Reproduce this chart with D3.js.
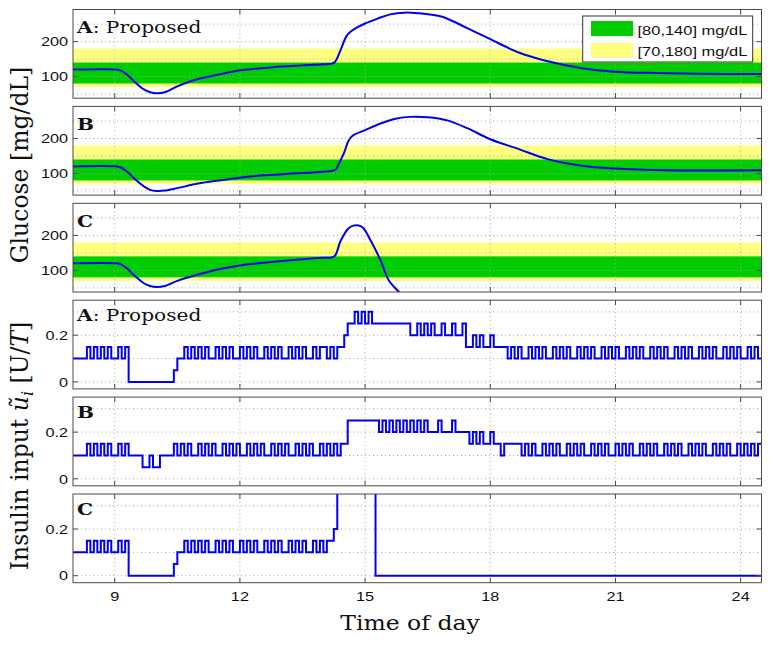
<!DOCTYPE html>
<html><head><meta charset="utf-8">
<script src="https://cdn.jsdelivr.net/npm/d3@7"></script>
<style>body{margin:0;background:#fff}</style>
</head><body>
<svg id="chart" width="771" height="646"></svg>
<script>
// ---------- DATA ----------
const hourTicks = [9, 12, 15, 18, 21, 24];
const glucoseTicks = [100, 200];
const glucoseGrid = [50, 100, 150, 200, 250];
const insulinTicks = [0, 0.2];
const insulinTickLabels = ["0", "0.2"];
const insulinGrid = [0, 0.1, 0.2, 0.3];

const bandLow = [70, 80];
const bandHigh = [180, 140];
const bandColor = ["#ffff80", "#00cc00"];
const legendLabels = ["[80,140] mg/dL", "[70,180] mg/dL"];

const glucoseA_t = [8, 9.05, 9.15, 9.3, 9.5, 9.7, 9.85, 10.0, 10.2, 10.5, 10.8, 11.0, 11.5, 12, 12.5, 13, 13.5, 14, 14.2, 14.28, 14.42, 14.55, 14.65, 14.8, 15.0, 15.3, 15.6, 15.95, 16.3, 16.6, 16.85, 17.0, 17.46, 18, 18.7, 19.3, 20.2, 21, 22, 23, 24.5];
const glucoseA_v = [120, 120, 117, 105, 82, 63, 55, 52, 55, 72, 86, 93, 106, 118, 124, 129, 132, 135, 137, 142, 178, 215, 228, 240, 252, 266, 278, 283, 281, 277, 271, 264, 238, 207, 168, 146, 124, 114, 110, 108, 107];

const glucoseB_t = [8, 9.05, 9.15, 9.3, 9.5, 9.7, 9.85, 10.0, 10.2, 10.5, 11.0, 11.5, 12, 12.5, 13, 13.5, 14, 14.2, 14.3, 14.4, 14.5, 14.6, 14.7, 15.0, 15.37, 15.7, 16.05, 16.5, 16.97, 17.46, 18, 18.7, 19.38, 20.2, 21, 22.2, 24.5];
const glucoseB_v = [120, 120, 117, 105, 82, 63, 53, 50, 51, 58, 71, 80, 88, 94, 98, 101, 105, 107, 112, 135, 160, 193, 208, 224, 243, 256, 262, 261, 252, 229, 198, 169, 141, 122, 114, 109, 109];

const glucoseC_t = [8, 9.05, 9.15, 9.3, 9.5, 9.7, 9.85, 10.0, 10.2, 10.5, 11.0, 11.5, 12, 12.5, 13, 13.5, 14, 14.2, 14.28, 14.42, 14.6, 14.72, 14.82, 14.95, 15.13, 15.37, 15.57, 15.81, 15.9];
const glucoseC_v = [120, 120, 117, 105, 82, 63, 55, 52, 55, 70, 88, 103, 114, 121, 127, 132, 136, 137, 142, 186, 220, 228, 229, 222, 186, 129, 71, 38, 25];

// insulin input, one value per 5-minute sample starting at 8:00 (rows = hours 8..24)
const insulinA = [
 .10,.10,.10,.10,.15,.10,.15,.10,.15,.10,.15,.10,
 .10,.15,.10,.15,0,0,0,0,0,0,0,0,
 0,0,0,0,0,.05,.10,.10,.15,.10,.15,.10,
 .15,.10,.15,.10,.10,.15,.10,.15,.10,.15,.10,.10,
 .15,.10,.15,.10,.15,.10,.10,.15,.10,.15,.10,.15,
 .10,.10,.15,.10,.15,.10,.15,.10,.10,.15,.10,.15,
 .15,.10,.15,.10,.15,.15,.20,.25,.25,.30,.25,.30,
 .25,.30,.25,.25,.25,.25,.25,.25,.25,.25,.25,.25,
 .25,.20,.20,.25,.20,.25,.20,.25,.20,.20,.25,.20,
 .20,.25,.20,.20,.25,.15,.15,.20,.15,.20,.15,.15,
 .20,.15,.15,.15,.15,.10,.15,.10,.15,.10,.10,.15,
 .10,.15,.10,.15,.10,.10,.15,.10,.15,.10,.15,.10,
 .10,.15,.10,.15,.10,.15,.10,.10,.15,.10,.15,.10,
 .15,.10,.10,.15,.10,.15,.10,.15,.10,.10,.15,.10,
 .15,.10,.15,.10,.10,.15,.10,.15,.10,.15,.10,.10,
 .15,.10,.15,.10,.15,.10,.10,.15,.10,.15,.10,.15,
 .10,.10,.15,.10,.15,.10
];
const insulinB = [
 .10,.10,.10,.10,.15,.10,.15,.10,.15,.10,.15,.10,
 .10,.15,.10,.15,.10,.10,.10,.10,.05,.05,.10,.05,
 .05,.10,.10,.10,.10,.15,.10,.15,.10,.15,.10,.10,
 .15,.10,.15,.10,.15,.10,.10,.15,.10,.15,.10,.15,
 .10,.10,.15,.10,.15,.10,.15,.10,.10,.15,.10,.15,
 .10,.15,.10,.10,.15,.10,.15,.10,.15,.10,.10,.15,
 .10,.15,.10,.15,.10,.15,.15,.25,.25,.25,.25,.25,
 .25,.25,.25,.25,.20,.25,.20,.25,.20,.25,.20,.25,
 .20,.25,.20,.25,.20,.25,.20,.20,.20,.25,.20,.20,
 .20,.25,.20,.20,.20,.20,.15,.20,.15,.20,.15,.15,
 .20,.15,.15,.10,.15,.15,.15,.15,.15,.10,.15,.10,
 .15,.10,.10,.15,.10,.15,.10,.15,.10,.10,.15,.10,
 .15,.10,.15,.10,.10,.15,.10,.15,.10,.15,.10,.10,
 .15,.10,.15,.10,.15,.10,.10,.15,.10,.15,.10,.15,
 .10,.10,.15,.10,.15,.10,.15,.10,.10,.15,.10,.15,
 .10,.15,.10,.10,.15,.10,.15,.10,.15,.10,.10,.15,
 .10,.15,.10,.15,.10,.15
];
const insulinC = [
 .10,.10,.10,.10,.15,.10,.15,.10,.15,.10,.15,.10,
 .10,.15,.10,.15,0,0,0,0,0,0,0,0,
 0,0,0,0,0,.05,.10,.10,.15,.10,.15,.10,
 .15,.10,.15,.10,.10,.15,.10,.15,.10,.15,.10,.10,
 .15,.10,.15,.10,.15,.10,.10,.15,.10,.15,.10,.15,
 .10,.10,.15,.10,.15,.10,.15,.10,.10,.15,.10,.15,
 .10,.15,.15,.20,.60,.60,.60,.60,.60,.60,.60,.60,
 .60,.60,.60,0,0,0,0,0,0,0,0,0,
 0,0,0,0,0,0,0,0,0,0,0,0,
 0,0,0,0,0,0,0,0,0,0,0,0,
 0,0,0,0,0,0,0,0,0,0,0,0,
 0,0,0,0,0,0,0,0,0,0,0,0,
 0,0,0,0,0,0,0,0,0,0,0,0,
 0,0,0,0,0,0,0,0,0,0,0,0,
 0,0,0,0,0,0,0,0,0,0,0,0,
 0,0,0,0,0,0,0,0,0,0,0,0,
 0,0,0,0,0,0
];
const sampleHours = 1 / 12; // 5-minute sampling

const panelNames = ["A", "B", "C", "A", "B", "C"];
const panelSuffix = [": Proposed", "", "", ": Proposed", "", ""];

// ---------- LAYOUT ----------
const svg = d3.select("#chart");
const L = 73, R = 761.5, T0 = 9.5, STEP = 96.9, PH = 88.7;
const x = d3.scaleLinear().domain([8, 24.5]).range([L, R]);
const frameColor = "#4a4a4a";
const gridColor = "#a8a8a8";
const lineColor = "#0000f0";
const defs = svg.append("defs");

function stext(parent, px, py, sx) {
  return parent.append("text").attr("transform", `translate(${px},${py}) scale(${sx},1)`);
}

const panels = [
  {type: "g", t: glucoseA_t, v: glucoseA_v},
  {type: "g", t: glucoseB_t, v: glucoseB_v},
  {type: "g", t: glucoseC_t, v: glucoseC_v},
  {type: "i", u: insulinA},
  {type: "i", u: insulinB},
  {type: "i", u: insulinC}
];

panels.forEach((p, i) => {
  const top = T0 + i * STEP;
  const isG = p.type === "g";
  const y = d3.scaleLinear().domain(isG ? [38, 292] : [-0.03, 0.35]).range([top + PH, top]);
  const g = svg.append("g");
  defs.append("clipPath").attr("id", "clip" + i).append("rect")
    .attr("x", L).attr("y", top).attr("width", R - L).attr("height", PH);

  if (isG) {
    bandLow.forEach((lo, b) => {
      g.append("rect").attr("x", L).attr("width", R - L)
        .attr("y", y(bandHigh[b])).attr("height", y(lo) - y(bandHigh[b]))
        .attr("fill", bandColor[b]);
    });
  }
  // grid
  const grid = isG ? glucoseGrid : insulinGrid;
  grid.forEach(v => {
    g.append("line").attr("x1", L).attr("x2", R).attr("y1", y(v)).attr("y2", y(v))
      .attr("stroke", gridColor).attr("stroke-width", 1).attr("stroke-dasharray", "1,3");
  });
  hourTicks.forEach(h => {
    g.append("line").attr("x1", x(h)).attr("x2", x(h)).attr("y1", top).attr("y2", top + PH)
      .attr("stroke", gridColor).attr("stroke-width", 1).attr("stroke-dasharray", "1,3");
  });

  // data line
  let pts;
  let line;
  if (isG) {
    pts = p.t.map((t, k) => [t, p.v[k]]);
    line = d3.line().x(d => x(d[0])).y(d => y(d[1])).curve(d3.curveCatmullRom.alpha(0.5));
  } else {
    pts = p.u.map((u, k) => [8 + k * sampleHours, u]);
    pts.push([24.5, p.u[p.u.length - 1]]);
    line = d3.line().x(d => x(d[0])).y(d => y(d[1])).curve(d3.curveStepAfter);
  }
  g.append("path").attr("d", line(pts)).attr("fill", "none").attr("stroke", lineColor)
    .attr("stroke-width", 2).attr("stroke-linejoin", "miter").attr("clip-path", `url(#clip${i})`);

  // frame
  g.append("rect").attr("x", L).attr("y", top).attr("width", R - L).attr("height", PH)
    .attr("fill", "none").attr("stroke", frameColor).attr("stroke-width", 1);
  // x ticks (inside, top and bottom)
  hourTicks.forEach(h => {
    g.append("line").attr("x1", x(h)).attr("x2", x(h)).attr("y1", top).attr("y2", top + 5).attr("stroke", frameColor);
    g.append("line").attr("x1", x(h)).attr("x2", x(h)).attr("y1", top + PH).attr("y2", top + PH - 5).attr("stroke", frameColor);
  });
  // y ticks + labels
  const ticks = isG ? glucoseTicks : insulinTicks;
  ticks.forEach((v, k) => {
    g.append("line").attr("x1", L).attr("x2", L + 5).attr("y1", y(v)).attr("y2", y(v)).attr("stroke", frameColor);
    g.append("line").attr("x1", R).attr("x2", R - 5).attr("y1", y(v)).attr("y2", y(v)).attr("stroke", frameColor);
    stext(g, L - 5, y(v) + 4.8, 1.3)
      .attr("text-anchor", "end").attr("font-family", "Liberation Sans, Arial, sans-serif")
      .attr("font-size", 12.5).attr("fill", "#111")
      .text(isG ? String(v) : insulinTickLabels[k]);
  });
  // panel label
  const lab = stext(g, L + 4, top + (isG ? 23.8 : 20.8), 1.26)
    .attr("font-family", "DejaVu Serif, serif").attr("font-size", 16).attr("fill", "#111");
  lab.append("tspan").attr("font-weight", "bold").text(panelNames[i]);
  if (panelSuffix[i]) lab.append("tspan").text(panelSuffix[i]);

  // x tick labels on the bottom panel
  if (i === panels.length - 1) {
    hourTicks.forEach(h => {
      stext(svg, x(h), top + PH + 18.5, 1.3).attr("text-anchor", "middle")
        .attr("font-family", "Liberation Sans, Arial, sans-serif").attr("font-size", 12.5)
        .attr("fill", "#111").text(h);
    });
  }

  // legend on first panel
  if (i === 0) {
    const lg = svg.append("g");
    lg.append("rect").attr("x", 582.7).attr("y", 16).attr("width", 170).attr("height", 46)
      .attr("fill", "#fff").attr("stroke", "#333").attr("stroke-width", 1);
    const order = [1, 0];
    order.forEach((b, r) => {
      lg.append("rect").attr("x", 591).attr("y", 21 + r * 21.7).attr("width", 42).attr("height", 15)
        .attr("fill", bandColor[b]);
      stext(lg, 637.5, 34.5 + r * 21.3, 1.22).attr("font-family", "Liberation Sans, Arial, sans-serif")
        .attr("font-size", 13.5).attr("fill", "#111").text(legendLabels[r]);
    });
  }
});

// axis titles
stext(svg, 410, 629.5, 1.12).attr("text-anchor", "middle")
  .attr("font-family", "DejaVu Serif, serif").attr("font-size", 21).attr("fill", "#111")
  .text("Time of day");

svg.append("text").attr("transform", "translate(28,165) rotate(-90)")
  .attr("text-anchor", "middle").attr("font-family", "DejaVu Serif, serif")
  .attr("font-size", 23.5).attr("fill", "#111").text("Glucose [mg/dL]");

const il = svg.append("text").attr("transform", "translate(28,446) rotate(-90)")
  .attr("text-anchor", "middle").attr("font-family", "DejaVu Serif, serif")
  .attr("font-size", 23.5).attr("fill", "#111");
il.append("tspan").text("Insulin input ");
il.append("tspan").attr("font-style", "italic").text("ũ");
il.append("tspan").attr("font-style", "italic").attr("font-size", 16).attr("dy", 5).text("i");
il.append("tspan").attr("dy", -5).text(" [U/");
il.append("tspan").attr("font-style", "italic").text("T");
il.append("tspan").text("]");
</script>
</body></html>
